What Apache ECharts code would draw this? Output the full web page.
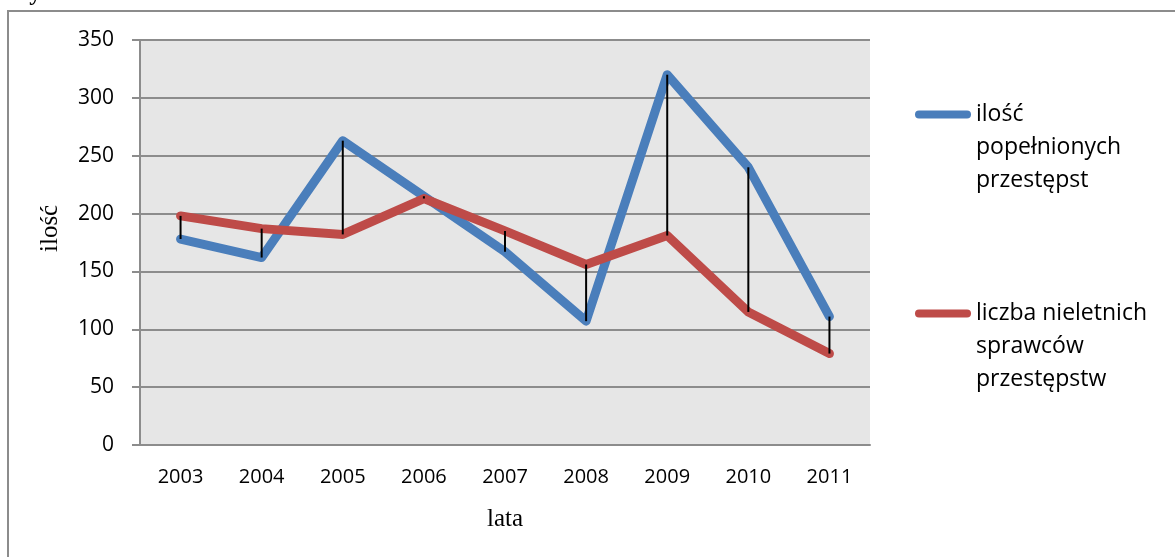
<!DOCTYPE html>
<html>
<head>
<meta charset="utf-8">
<script src="https://cdn.jsdelivr.net/npm/echarts@6/dist/echarts.min.js"></script>
<style>
  html, body { margin: 0; padding: 0; background: #fff; }
  #main { width: 1175px; height: 557px; }
</style>
</head>
<body>
<div id="main"></div>
<script>
let years = ['2003', '2004', '2005', '2006', '2007', '2008', '2009', '2010', '2011'];
let crimes = [178, 162, 263, 215, 167, 107, 320, 240, 111];
let juveniles = [198, 187, 182, 213, 185, 156, 181, 115, 79];
let yTicks = { min: 0, max: 350, interval: 50 };

let crimesName = 'ilość\npopełnionych\nprzestępst';
let juvName = 'liczba nieletnich\nsprawców\nprzestępstw';

// pairs for the black high-low lines
let gaps = years.map((y, i) => [i, crimes[i], juveniles[i]]);

var myChart = echarts.init(document.getElementById('main'));

// rounded bar used as legend marker
let legendIcon = 'path://M4,0 H52 A4,4 0 0 1 52,8 H4 A4,4 0 0 1 4,0 Z';
let legendText = {
    fontFamily: 'Open Sans',
    fontSize: 23,
    color: '#000',
    lineHeight: 33
};
// two blank lines in front so the marker sits next to the first text line
let legendFormatter = (name) => '\u00a0\n\u00a0\n' + name;

var option = {
    animation: false,
    backgroundColor: '#fff',
    grid: {
        left: 140, right: 305, top: 40, bottom: 112,
        show: true,
        backgroundColor: '#e6e6e6',
        borderWidth: 0
    },
    legend: [
        {
            data: [crimesName],
            left: 915, top: 32,
            padding: 0,
            icon: legendIcon,
            itemWidth: 56, itemHeight: 9,
            formatter: legendFormatter,
            textStyle: legendText
        },
        {
            data: [juvName],
            left: 915, top: 231,
            padding: 0,
            icon: legendIcon,
            itemWidth: 56, itemHeight: 9,
            formatter: legendFormatter,
            textStyle: legendText
        }
    ],
    xAxis: {
        type: 'category',
        data: years,
        boundaryGap: true,
        axisLine: { lineStyle: { color: '#8c8c8c', width: 2 } },
        axisTick: { show: false },
        axisLabel: { fontFamily: 'Open Sans', fontSize: 20, color: '#000', margin: 22 }
    },
    yAxis: {
        type: 'value',
        min: yTicks.min, max: yTicks.max, interval: yTicks.interval,
        axisLine: { show: true, lineStyle: { color: '#8c8c8c', width: 2 } },
        axisTick: { show: true, length: 8, lineStyle: { color: '#8c8c8c', width: 2 } },
        axisLabel: { fontFamily: 'Open Sans', fontSize: 21, color: '#000', margin: 26 },
        splitLine: { lineStyle: { color: '#8c8c8c', width: 2 } }
    },
    graphic: [
        {
            type: 'rect', silent: true, z: -1,
            shape: { x: 8, y: 11, width: 1300, height: 700 },
            style: { fill: 'none', stroke: '#8c8c8c', lineWidth: 2 }
        },
        {
            type: 'text', left: 8, top: -18,
            style: { text: 'czynów:', font: 'bold 24px "Liberation Serif"', fill: '#000' }
        },
        {
            type: 'text', x: 505, y: 507,
            style: { text: 'lata', font: '25px "Liberation Serif"', fill: '#000', textAlign: 'center', textVerticalAlign: 'top' }
        },
        {
            type: 'text', x: 38, y: 252, rotation: Math.PI / 2,
            style: { text: 'ilość', font: '25px "Liberation Serif"', fill: '#000' }
        }
    ],
    series: [
        {
            name: crimesName,
            type: 'line',
            data: crimes,
            symbol: 'none',
            color: '#4a7ebb',
            lineStyle: { width: 9, color: '#4a7ebb', cap: 'round', join: 'round' },
            z: 2
        },
        {
            name: juvName,
            type: 'line',
            data: juveniles,
            symbol: 'none',
            color: '#be4b48',
            lineStyle: { width: 9, color: '#be4b48', cap: 'round', join: 'round' },
            z: 3
        },
        {
            type: 'custom',
            data: gaps,
            z: 4,
            renderItem: function (params, api) {
                let p1 = api.coord([api.value(0), api.value(1)]);
                let p2 = api.coord([api.value(0), api.value(2)]);
                return {
                    type: 'line',
                    shape: { x1: p1[0], y1: p1[1], x2: p2[0], y2: p2[1] },
                    style: { stroke: '#000', lineWidth: 2 }
                };
            }
        }
    ]
};

myChart.setOption(option);
</script>
</body>
</html>
